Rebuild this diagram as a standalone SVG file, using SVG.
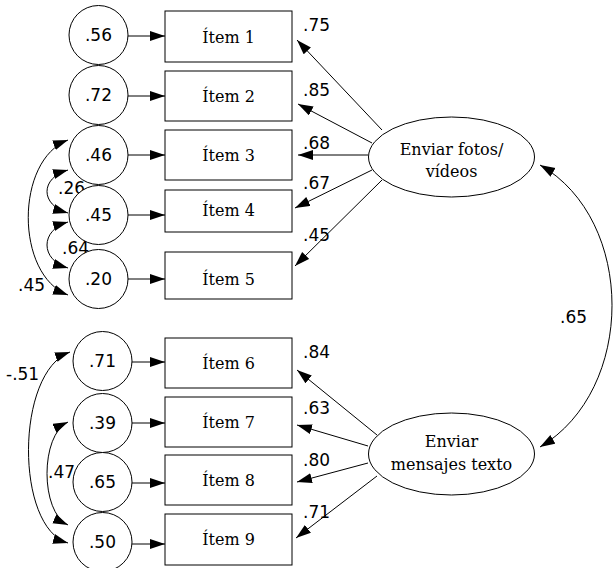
<svg xmlns="http://www.w3.org/2000/svg" width="613" height="568" viewBox="0 0 613 568">
<style>
.bg{fill:#fff}
.c{fill:#fff;stroke:#000;stroke-width:1}
.b{fill:#fff;stroke:#000;stroke-width:1}
.e{fill:#fff;stroke:#000;stroke-width:1}
.ln{fill:none;stroke:#000;stroke-width:1;marker-end:url(#ah)}
.cv{fill:none;stroke:#000;stroke-width:1;marker-start:url(#ah);marker-end:url(#ah)}
.n{font-family:"DejaVu Sans",sans-serif;font-size:17px;fill:#000}
.nc{font-family:"DejaVu Sans",sans-serif;font-size:17px;fill:#000;text-anchor:middle}
.t{font-family:"DejaVu Serif",serif;font-size:16px;fill:#000;text-anchor:middle}
</style>
<defs>
<marker id="ah" markerUnits="userSpaceOnUse" markerWidth="16" markerHeight="11" refX="15" refY="5" orient="auto-start-reverse" viewBox="0 0 16 11">
<path d="M0,0 L15,5 L0,10 z" fill="#000"/>
</marker>
</defs>
<rect class="bg" x="0" y="0" width="613" height="568"/>

<g id="connectors">
<line class="ln" x1="128" y1="36" x2="165" y2="36"/>
<line class="ln" x1="128" y1="96" x2="165" y2="96"/>
<line class="ln" x1="128" y1="155" x2="165" y2="155"/>
<line class="ln" x1="128" y1="215" x2="165" y2="215"/>
<line class="ln" x1="128" y1="279" x2="165" y2="279"/>
<line class="ln" x1="132" y1="362" x2="165" y2="362"/>
<line class="ln" x1="132" y1="423" x2="165" y2="423"/>
<line class="ln" x1="132" y1="483" x2="165" y2="483"/>
<line class="ln" x1="132" y1="544" x2="165" y2="544"/>

<line class="ln" x1="382" y1="130" x2="297" y2="40"/>
<line class="ln" x1="372" y1="143" x2="298" y2="104"/>
<line class="ln" x1="368" y1="155" x2="298" y2="155"/>
<line class="ln" x1="372" y1="170" x2="295" y2="208"/>
<line class="ln" x1="382" y1="180" x2="295" y2="266"/>

<line class="ln" x1="377" y1="435" x2="297" y2="370"/>
<line class="ln" x1="368" y1="446" x2="297" y2="425"/>
<line class="ln" x1="368" y1="463" x2="297" y2="482"/>
<line class="ln" x1="377" y1="476" x2="296" y2="538"/>

<path class="cv" d="M68,140 C15,160 15,275 68,295"/>
<path class="cv" d="M68,170 C40,178 40,205 68,213"/>
<path class="cv" d="M68,222 C40,230 40,260 68,268"/>
<path class="cv" d="M70,352 C15,372 15,528 68,543"/>
<path class="cv" d="M68,422 C40,435 40,512 68,525"/>
<path class="cv" d="M540,165 C636,220 636,390 540,447"/>

<text class="n" x="303" y="31">.75</text>
<text class="n" x="303" y="96">.85</text>
<text class="n" x="303" y="149">.68</text>
<text class="n" x="303" y="189">.67</text>
<text class="n" x="303" y="241">.45</text>
<text class="n" x="303" y="358">.84</text>
<text class="n" x="303" y="414">.63</text>
<text class="n" x="303" y="466">.80</text>
<text class="n" x="303" y="518">.71</text>
<text class="n" x="58" y="194">.26</text>
<text class="n" x="62" y="254">.64</text>
<text class="n" x="18" y="291">.45</text>
<text class="n" x="6" y="380">-.51</text>
<text class="n" x="48" y="478">.47</text>
<text class="n" x="560" y="323">.65</text>
</g>

<g id="e1"><circle class="c" cx="98.5" cy="35" r="29.5"/><text class="nc" x="98.5" y="41">.56</text></g>
<g id="e2"><circle class="c" cx="98.5" cy="95" r="29.5"/><text class="nc" x="98.5" y="101">.72</text></g>
<g id="e3"><circle class="c" cx="98.5" cy="155" r="29.5"/><text class="nc" x="98.5" y="161">.46</text></g>
<g id="e4"><circle class="c" cx="98.5" cy="215" r="29.5"/><text class="nc" x="98.5" y="221">.45</text></g>
<g id="e5"><circle class="c" cx="98.5" cy="279" r="29.5"/><text class="nc" x="98.5" y="285">.20</text></g>
<g id="e6"><circle class="c" cx="102.5" cy="361" r="29.5"/><text class="nc" x="102.5" y="367">.71</text></g>
<g id="e7"><circle class="c" cx="102.5" cy="423" r="29.5"/><text class="nc" x="102.5" y="429">.39</text></g>
<g id="e8"><circle class="c" cx="102.5" cy="482" r="29.5"/><text class="nc" x="102.5" y="488">.65</text></g>
<g id="e9"><circle class="c" cx="102.5" cy="542" r="29.5"/><text class="nc" x="102.5" y="548">.50</text></g>

<g id="item1"><rect class="b" x="165" y="11" width="127" height="51"/><text class="t" x="228.5" y="43">Ítem 1</text></g>
<g id="item2"><rect class="b" x="165" y="71" width="127" height="50"/><text class="t" x="228.5" y="102">Ítem 2</text></g>
<g id="item3"><rect class="b" x="165" y="130" width="127" height="50"/><text class="t" x="228.5" y="161">Ítem 3</text></g>
<g id="item4"><rect class="b" x="165" y="190" width="127" height="42"/><text class="t" x="228.5" y="216">Ítem 4</text></g>
<g id="item5"><rect class="b" x="165" y="252" width="127" height="47"/><text class="t" x="228.5" y="285">Ítem 5</text></g>
<g id="item6"><rect class="b" x="165" y="338" width="127" height="50"/><text class="t" x="228.5" y="369">Ítem 6</text></g>
<g id="item7"><rect class="b" x="165" y="397" width="127" height="50"/><text class="t" x="228.5" y="428">Ítem 7</text></g>
<g id="item8"><rect class="b" x="165" y="455" width="127" height="50"/><text class="t" x="228.5" y="486">Ítem 8</text></g>
<g id="item9"><rect class="b" x="165" y="514" width="127" height="51"/><text class="t" x="228.5" y="545">Ítem 9</text></g>

<g id="f1"><ellipse class="e" cx="451.5" cy="157" rx="83" ry="40"/><text class="t" x="451.5" y="155">Enviar fotos/</text><text class="t" x="451.5" y="177">vídeos</text></g>
<g id="f2"><ellipse class="e" cx="451.5" cy="454" rx="83" ry="41"/><text class="t" x="451.5" y="447">Enviar</text><text class="t" x="451.5" y="470">mensajes texto</text></g>
</svg>
